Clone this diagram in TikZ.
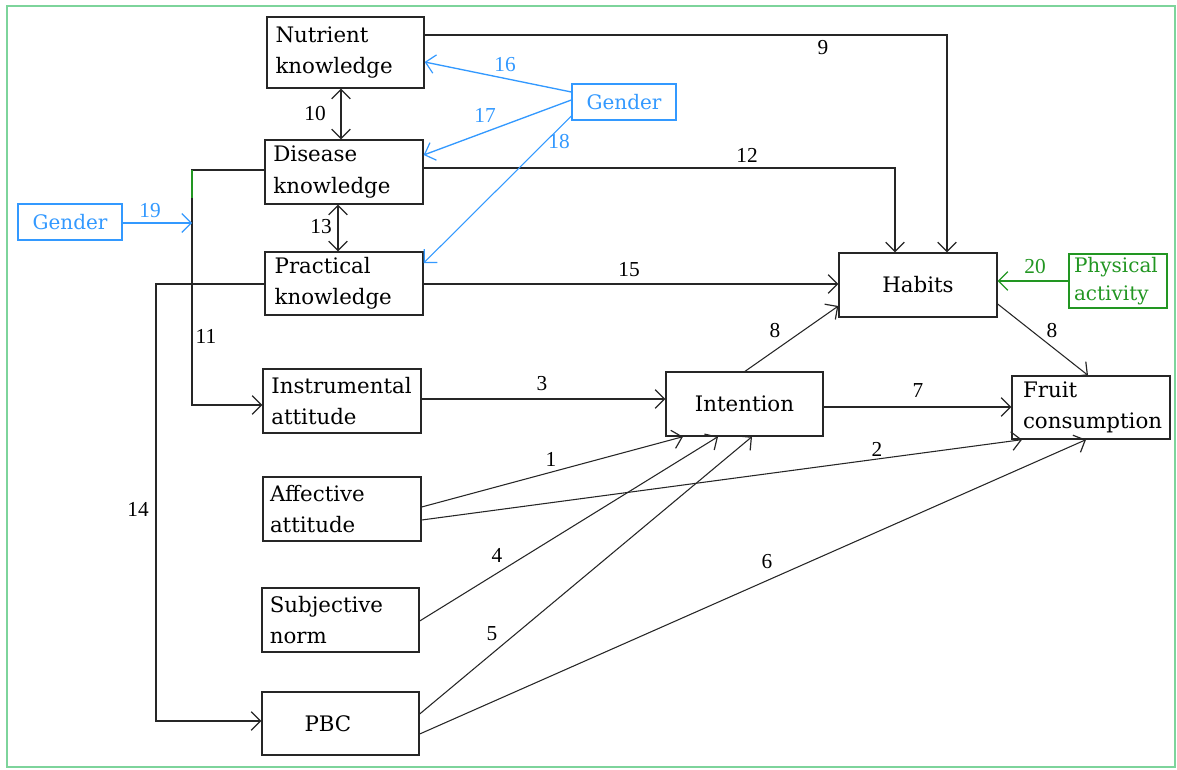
\documentclass[tikz,border=0pt]{standalone}
\usepackage{fontspec}
\setmainfont{DejaVu Serif}
\newfontfamily\numfont{Liberation Serif}
\usetikzlibrary{arrows.meta}
\definecolor{gblue}{RGB}{51,153,255}
\definecolor{pgreen}{RGB}{34,150,34}
\definecolor{framegreen}{RGB}{125,212,155}

\begin{document}
\begin{tikzpicture}[x=0.75pt,y=-0.75pt,
  box/.style={draw=black!85, line width=1pt, inner sep=0pt,
    font=\fontsize{16}{23.5}\selectfont},
  lbox/.style={box, align=left},
  gbox/.style={draw=gblue, text=gblue, line width=1pt, inner sep=0pt,
    minimum width=78pt, minimum height=27pt, font=\fontsize{15}{18}\selectfont},
  barb/.tip={Straight Barb[length=7pt,width=14pt,line width=0.9pt]},
  arr/.style={draw=black!85, line width=1pt, -barb},
  darr/.style={draw=black!85, line width=1pt, barb-barb},
  sarr/.style={draw=black!85, line width=0.8pt, -barb},
  barr/.style={draw=gblue, line width=1pt, -barb},
  garr/.style={draw=pgreen, line width=1pt, -barb},
  lab/.style={inner sep=0pt, font=\numfont\fontsize{16}{18}\selectfont},
  blab/.style={lab, text=gblue},
  glab/.style={lab, text=pgreen}]

\useasboundingbox (0,0) rectangle (1177,770);
% outer frame
\draw[framegreen, line width=2pt] (7,6) rectangle (1175,767);

% knowledge boxes
\node[lbox, minimum width=117.75pt, minimum height=53.25pt, text width=105pt] (nut) at (345.5,52.5) {Nutrient\\knowledge};
\node[lbox, minimum width=118.5pt, minimum height=48pt, text width=106pt] (dis) at (344,172) {Disease\\knowledge};
\node[lbox, minimum width=118.5pt, minimum height=47.25pt, text width=104pt] (pra) at (344,283.5) {Practical\\knowledge};

% TPB boxes
\node[lbox, minimum width=118.5pt, minimum height=48pt, text width=106pt] (ins) at (342,401) {Instrumental\\attitude};
\node[lbox, minimum width=118.5pt, minimum height=48pt, text width=108pt] (aff) at (342,509) {Affective\\attitude};
\node[lbox, minimum width=117.75pt, minimum height=48pt, text width=106pt] (sub) at (340.5,620) {Subjective\\norm};
\node[lbox, minimum width=117.75pt, minimum height=47.25pt, text width=106pt] (pbc) at (340.5,723.5) {\hspace*{26pt}PBC};

% outcome boxes
\node[box, minimum width=117.75pt, minimum height=48pt] (int) at (744.5,404) {Intention};
\node[box, minimum width=118.5pt, minimum height=48pt] (hab) at (918,285) {Habits};
\node[lbox, minimum width=118.5pt, minimum height=47.25pt, text width=102pt] (fru) at (1091,407.5) {Fruit\\consumption};

% moderators
\node[gbox] (genL) at (70,222) {Gender};
\node[gbox] (genM) at (624,102) {Gender};
\node[draw=pgreen, text=pgreen, line width=1pt, inner sep=0pt, minimum width=73.5pt,
  minimum height=40.5pt, text width=66pt, align=left,
  font=\fontsize{15}{21}\selectfont] (phy) at (1118,281) {Physical\\activity};

% knowledge paths
\draw[arr] (nut.east |- 0,35) -| (hab.north -| 947,0);
\draw[arr] (dis.east |- 0,168) -| (hab.north -| 895,0);
\draw[arr] (pra.east |- 0,284) -- (hab.west |- 0,284);
\draw[darr] (nut.south -| 341,0) -- (dis.north -| 341,0);
\draw[darr] (dis.south -| 338,0) -- (pra.north -| 338,0);
\coordinate (j11) at (192,223);
\draw[arr] (dis.west |- 0,170) -- (192,170) -- (192,405) -- (ins.west |- 0,405);
\draw[pgreen, line width=1.2pt] (192,170.5) -- (192,198);
\draw[arr] (pra.west |- 0,284) -- (156,284) -- (156,721) -- (pbc.west |- 0,721);

% gender paths
\draw[barr] (genL.east |- j11) -- (j11);
\draw[barr] (genM.west |- 0,92) -- (nut.east |- 0,62);
\draw[barr] (genM.west |- 0,100) -- (dis.east |- 0,155);
\draw[barr, line width=0.8pt] (genM.west |- 0,116) -- (pra.east |- 0,263);

% TPB paths
\draw[arr] (ins.east |- 0,399) -- (int.west |- 0,399);
\draw[arr] (int.east |- 0,407) -- (fru.west |- 0,407);
\draw[sarr] (int.north -| 745,0) -- (hab.west |- 0,306);
\draw[sarr] (hab.east |- 0,304) -- (fru.north -| 1088,0);
\draw[garr] (phy.west) -- (hab.east |- phy.west);
\draw[sarr] (aff.east |- 0,507) -- (int.south -| 683,0);
\draw[sarr] (aff.east |- 0,520) -- (fru.south -| 1022,0);
\draw[sarr] (sub.east |- 0,621) -- (int.south -| 718,0);
\draw[sarr] (pbc.east |- 0,714) -- (int.south -| 752,0);
\draw[sarr] (pbc.east |- 0,734) -- (fru.south -| 1086,0);

% path numbers
\node[lab] (l1) at (551,459) {1};
\node[lab] (l2) at (877,449) {2};
\node[lab] (l3) at (542,384) {3};
\node[lab] (l4) at (497,555) {4};
\node[lab] (l5) at (492,634) {5};
\node[lab] (l6) at (767,562) {6};
\node[lab] (l7) at (918,391) {7};
\node[lab] (l8a) at (775,331) {8};
\node[lab] (l8b) at (1052,331) {8};
\node[lab] (l9) at (823,48) {9};
\node[lab] (l10) at (315,114) {10};
\node[lab] (l11) at (206,336) {11};
\node[lab] (l12) at (747,155) {12};
\node[lab] (l13) at (321,227) {13};
\node[lab] (l14) at (138,509) {14};
\node[lab] (l15) at (629,270) {15};
\node[blab] (l16) at (505,65) {16};
\node[blab] (l17) at (485,115) {17};
\node[blab] (l18) at (559,142) {18};
\node[blab] (l19) at (150,211) {19};
\node[glab] (l20) at (1035,267) {20};
\end{tikzpicture}
\end{document}
